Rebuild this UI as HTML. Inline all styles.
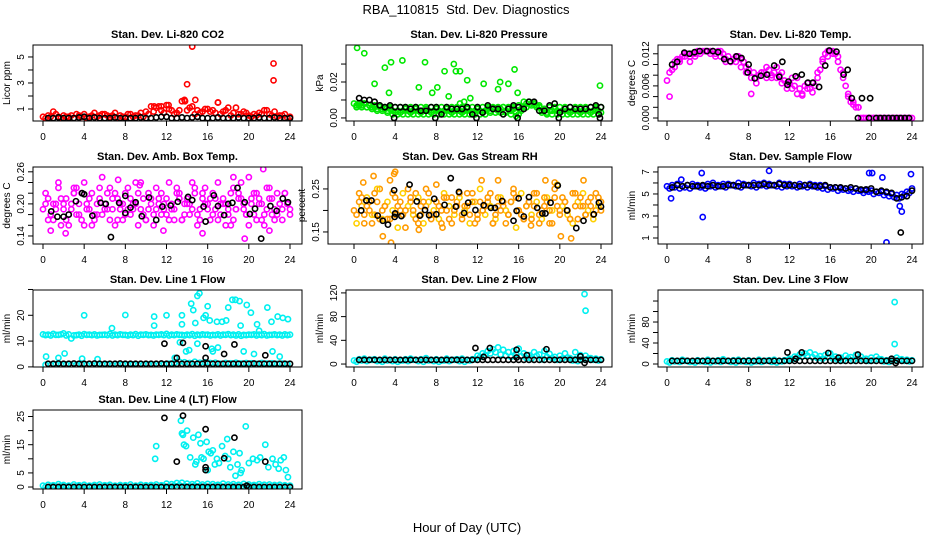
<!DOCTYPE html>
<html><head><meta charset="utf-8"><title>RBA_110815 Std. Dev. Diagnostics</title>
<style>
html,body{margin:0;padding:0;background:#fff;}
svg{display:block;font-family:"Liberation Sans",sans-serif;}
</style></head>
<body>
<svg id="chart" width="936" height="540" viewBox="0 0 936 540" xmlns="http://www.w3.org/2000/svg">
<text x="466" y="14" font-size="13" text-anchor="middle" style="white-space:pre">RBA_110815  Std. Dev. Diagnostics</text>
<text x="467" y="532" font-size="13" text-anchor="middle">Hour of Day (UTC)</text>
</svg>
<script>
// ---------- shared hour categories ----------
const HOURS_A = [0,0.5,1,1.5,2,2.5,3,3.5,4,4.5,5,5.5,6,6.5,7,7.5,8,8.5,9,9.5,10,10.5,11,11.5,12,12.5,13,13.5,14,14.5,15,15.5,16,16.5,17,17.5,18,18.5,19,19.5,20,20.5,21,21.5,22,22.5,23,23.5,24];
const HOURS_B = [0.25,0.75,1.25,1.75,2.25,2.75,3.25,3.75,4.25,4.75,5.25,5.75,6.25,6.75,7.25,7.75,8.25,8.75,9.25,9.75,10.25,10.75,11.25,11.75,12.25,12.75,13.25,13.75,14.25,14.75,15.25,15.75,16.25,16.75,17.25,17.75,18.25,18.75,19.25,19.75,20.25,20.75,21.25,21.75,22.25,22.75,23.25,23.75];
const HOURS_K = [0.5,1,1.5,2,2.5,3,3.5,4,4.5,5,5.5,6,6.5,7,7.5,8,8.5,9,9.5,10,10.5,11,11.5,12,12.5,13,13.5,14,14.5,15,15.5,16,16.5,17,17.5,18,18.5,19,19.5,20,20.5,21,21.5,22,22.5,23,23.5,24];
const X_TICKS = [0,4,8,12,16,20,24];

// ---------- CO2 ----------
const co2A = [0.4,0.5,0.8,0.4,0.5,0.4,0.3,0.5,0.6,0.4,0.7,0.5,0.6,0.4,0.7,0.5,0.4,0.6,0.5,0.7,0.8,1.2,1.1,0.9,1.3,0.9,0.7,1.6,0.9,1.2,0.9,0.8,1.0,0.9,1.5,0.8,1.1,0.7,0.6,0.8,0.5,0.6,0.7,0.9,0.6,0.8,0.5,0.6,0.4];
const co2B = [0.3,0.4,0.6,0.3,0.4,0.5,0.6,0.4,0.3,0.5,0.4,0.6,0.5,0.5,0.3,0.4,0.6,0.4,0.5,0.4,0.6,0.8,1.2,0.7,1.0,0.6,0.9,1.7,1.1,0.6,0.7,1.0,0.8,0.7,0.6,0.9,0.5,1.1,0.6,0.7,0.4,0.5,0.6,0.9,0.5,0.4,0.5,0.3];
const co2OutX = [14.5,22.4,22.4,14.0,14.8,13.8,12.2,10.8,11.5,17.0];
const co2OutY = [5.8,4.5,3.2,2.9,1.7,1.6,1.3,1.2,1.2,1.5];
const co2K = [0.3,0.3,0.35,0.3,0.3,0.3,0.35,0.4,0.3,0.35,0.3,0.3,0.3,0.35,0.3,0.3,0.3,0.3,0.35,0.3,0.3,0.35,0.4,0.4,0.3,0.3,0.35,0.3,0.35,0.4,0.3,0.3,0.3,0.35,0.3,0.3,0.3,0.35,0.3,0.3,0.3,0.35,0.3,0.3,0.35,0.3,0.3,0.3];

// ---------- Pressure ----------
const prA = [0.008,0.008,0.008,0.007,0.007,0.007,0.006,0.006,0.006,0.006,0.006,0.006,0.006,0.006,0.006,0.006,0.006,0.006,0.006,0.006,0.006,0.006,0.006,0.006,0.006,0.006,0.006,0.006,0.006,0.006,0.006,0.006,0.007,0.009,0.009,0.008,0.006,0.005,0.006,0.006,0.006,0.006,0.006,0.006,0.006,0.006,0.006,0.006,0.006];
const prB = [0.006,0.006,0.006,0.005,0.004,0.004,0.003,0.002,0.002,0.002,0.002,0.002,0.002,0.002,0.002,0.002,0.002,0.002,0.002,0.002,0.002,0.002,0.002,0.002,0.002,0.002,0.003,0.003,0.003,0.003,0.002,0.001,0.004,0.006,0.007,0.006,0.003,0.002,0.002,0.002,0.002,0.002,0.002,0.002,0.002,0.002,0.002,0.002];
const prC = [0.007,0.007,0.006,0.006,0.005,0.005,0.004,0.004,0.004,0.004,0.004,0.004,0.004,0.004,0.004,0.004,0.004,0.004,0.004,0.004,0.004,0.004,0.004,0.004,0.004,0.004,0.004,0.005,0.005,0.004,0.004,0.003,0.005,0.008,0.008,0.007,0.004,0.003,0.004,0.004,0.004,0.004,0.004,0.004,0.004,0.004,0.004,0.004];
const prD = [0.007,0.008,0.007,0.006,0.006,0.005,0.005,0.003,0.003,0.005,0.003,0.005,0.003,0.005,0.003,0.005,0.003,0.005,0.003,0.005,0.003,0.005,0.003,0.005,0.003,0.005,0.005,0.004,0.006,0.005,0.005,0.002,0.006,0.009,0.008,0.007,0.005,0.004,0.005,0.003,0.005,0.003,0.005,0.003,0.005,0.003,0.005,0.003];
const prOutX = [0.3,1.0,3.0,3.6,4.7,6.9,9.7,9.9,10.3,8.8,15.6,11.0,2.0,12.6,15.0,14.2,23.9,6.3,8.1,14.0,3.4,7.6,15.9,9.2,11.3,10.7,10.3];
const prOutY = [0.039,0.036,0.028,0.031,0.032,0.031,0.030,0.026,0.026,0.026,0.027,0.021,0.019,0.019,0.019,0.020,0.018,0.017,0.017,0.016,0.014,0.014,0.014,0.012,0.011,0.009,0.008];
const prK = [0.011,0.010,0.010,0.009,0.007,0.006,0.007,0.006,0.006,0.006,0.005,0.006,0.004,0.004,0.006,0.006,0.002,0.006,0.005,0.005,0.005,0.006,0.002,0.006,0.003,0.007,0.005,0.005,0.002,0.005,0.007,0.006,0.005,0.009,0.009,0.004,0.004,0.007,0.008,0.003,0.005,0.006,0.005,0.005,0.005,0.006,0.007,0.006];
const prZeroX = [3.9,7.9,11.9,15.9,19.9,23.9,23.8];
const prZeroY = [0.0,0.0,0.0,0.0,0.0,0.0,0.002];

// ---------- Li-820 temperature ----------
const tmA = [0.007,0.009,0.011,0.0115,0.012,0.012,0.0125,0.0125,0.0125,0.0125,0.0125,0.012,0.0115,0.011,0.0115,0.0105,0.009,0.0085,0.008,0.0085,0.009,0.0085,0.008,0.007,0.0065,0.006,0.0055,0.006,0.0055,0.006,0.009,0.012,0.0125,0.012,0.009,0.006,0.003,0.002,0.0,0.0,0.0,0.0,0.0,0.0,0.0,0.0,0.0,0.0,0.0];
const tmB = [0.004,0.0105,0.011,0.012,0.0115,0.012,0.0125,0.0125,0.0125,0.012,0.0115,0.0105,0.0105,0.0115,0.011,0.0095,0.0075,0.0065,0.0085,0.0075,0.008,0.0075,0.0065,0.0055,0.0055,0.0045,0.0042,0.0055,0.0048,0.0075,0.0105,0.0125,0.012,0.0105,0.0075,0.004,0.0025,0.002,0.0,0.0,0.0,0.0,0.0,0.0,0.0,0.0,0.0,0.0];
const tmC = [0.0085,0.0095,0.0105,0.0115,0.0105,0.0115,0.012,0.0125,0.012,0.0115,0.0125,0.011,0.0105,0.0105,0.0095,0.0085,0.0045,0.0075,0.0085,0.0095,0.0075,0.0095,0.0085,0.0065,0.0075,0.0075,0.0045,0.0065,0.0065,0.0085,0.011,0.0115,0.0125,0.0115,0.0085,0.0045,0.003,0.002,0.0,0.0,0.0,0.0,0.0,0.0,0.0,0.0,0.0,0.0];
const tmKX = [0.5,1.0,1.7,2.2,2.7,3.2,3.9,4.5,5.0,5.6,6.2,6.8,7.3,7.9,8.0,8.6,9.2,9.8,10.5,11.0,11.3,11.8,11.9,12.6,13.2,13.8,14.3,14.9,15.5,15.9,16.6,17.3,17.7,18.1,19.1,19.9,18.7,19.8,20.5,20.9,21.3,21.7,22.1,22.5,22.9,23.3,23.7];
const tmKY = [0.010,0.0105,0.0122,0.012,0.0123,0.0125,0.0125,0.0125,0.0123,0.011,0.0106,0.0115,0.0112,0.0085,0.010,0.0074,0.0079,0.0081,0.0098,0.0077,0.0105,0.0062,0.0068,0.0078,0.0081,0.0066,0.0066,0.0058,0.0098,0.0126,0.0124,0.0081,0.009,0.0037,0.0037,0.0037,0.0,0.0,0.0,0.0,0.0,0.0,0.0,0.0,0.0,0.0,0.0];

// ---------- Amb box temp ----------
const abA = [0.19,0.21,0.17,0.23,0.20,0.16,0.22,0.18,0.24,0.19,0.17,0.21,0.20,0.23,0.16,0.19,0.22,0.18,0.20,0.24,0.17,0.21,0.19,0.22,0.18,0.20,0.23,0.17,0.21,0.19,0.16,0.22,0.20,0.18,0.24,0.21,0.19,0.17,0.22,0.20,0.25,0.18,0.21,0.16,0.23,0.19,0.20,0.22,0.19];
const abB = [0.22,0.18,0.20,0.16,0.21,0.19,0.23,0.17,0.20,0.22,0.18,0.25,0.19,0.21,0.17,0.20,0.23,0.19,0.16,0.21,0.22,0.18,0.20,0.19,0.24,0.17,0.21,0.20,0.18,0.22,0.19,0.23,0.17,0.21,0.20,0.16,0.22,0.19,0.24,0.18,0.21,0.17,0.20,0.23,0.18,0.22,0.19,0.20];
const abC = [0.17,0.20,0.24,0.19,0.18,0.22,0.20,0.16,0.21,0.18,0.23,0.19,0.17,0.22,0.20,0.18,0.21,0.24,0.19,0.17,0.20,0.23,0.18,0.21,0.19,0.22,0.17,0.20,0.24,0.18,0.21,0.19,0.22,0.17,0.20,0.18,0.23,0.21,0.19,0.16,0.22,0.20,0.18,0.21,0.17,0.20,0.22,0.18];
const abD = [0.20,0.15,0.19,0.21,0.17,0.20,0.18,0.22,0.19,0.16,0.20,0.18,0.22,0.19,0.21,0.17,0.19,0.20,0.22,0.18,0.19,0.16,0.21,0.20,0.17,0.19,0.22,0.18,0.20,0.23,0.17,0.20,0.21,0.19,0.18,0.20,0.16,0.19,0.21,0.18,0.20,0.22,0.17,0.19,0.21,0.18,0.17,0.20];
const abOutX = [2.2,7.3,9.4,18.5,19.6,21.4,22.0,11.7,3.0,15.5];
const abOutY = [0.145,0.245,0.235,0.25,0.135,0.265,0.15,0.15,0.23,0.145];
const abKX = [0.8,1.4,2.0,2.5,3.2,3.8,4.0,4.8,5.6,6.1,6.6,7.4,8.0,8.0,8.5,9.0,9.6,10.3,11.0,11.6,12.4,13.1,14.1,14.5,15.6,15.8,16.6,17.0,17.6,18.0,18.4,18.9,19.6,20.1,20.6,21.2,22.1,22.7,23.3,23.8];
const abKY = [0.186,0.176,0.176,0.180,0.205,0.220,0.218,0.178,0.202,0.200,0.138,0.202,0.215,0.183,0.193,0.203,0.177,0.212,0.170,0.195,0.197,0.204,0.213,0.207,0.195,0.167,0.216,0.196,0.179,0.200,0.202,0.230,0.203,0.181,0.191,0.135,0.196,0.187,0.210,0.203];

// ---------- Gas stream RH ----------
const rhA = [0.20,0.24,0.17,0.22,0.19,0.25,0.21,0.18,0.23,0.20,0.16,0.22,0.24,0.19,0.21,0.18,0.26,0.20,0.23,0.17,0.22,0.19,0.21,0.24,0.18,0.20,0.22,0.17,0.23,0.21,0.19,0.25,0.20,0.18,0.22,0.24,0.19,0.21,0.17,0.23,0.20,0.22,0.18,0.24,0.21,0.19,0.23,0.20,0.22];
const rhB = [0.17,0.21,0.23,0.19,0.25,0.18,0.22,0.20,0.16,0.24,0.21,0.19,0.23,0.17,0.22,0.20,0.18,0.24,0.21,0.19,0.23,0.20,0.17,0.22,0.25,0.19,0.21,0.18,0.23,0.20,0.22,0.16,0.24,0.21,0.19,0.22,0.18,0.23,0.20,0.26,0.21,0.19,0.17,0.22,0.24,0.20,0.18,0.21];
const rhC = [0.22,0.19,0.20,0.24,0.18,0.21,0.27,0.19,0.22,0.20,0.23,0.18,0.21,0.25,0.19,0.22,0.17,0.20,0.23,0.21,0.18,0.24,0.22,0.19,0.20,0.23,0.17,0.21,0.22,0.19,0.24,0.20,0.18,0.22,0.21,0.17,0.23,0.20,0.25,0.19,0.22,0.18,0.21,0.23,0.19,0.21,0.24,0.20];
const rhD = [0.19,0.23,0.21,0.17,0.22,0.20,0.18,0.24,0.21,0.19,0.25,0.20,0.17,0.22,0.24,0.19,0.21,0.23,0.18,0.20,0.24,0.21,0.19,0.17,0.22,0.21,0.24,0.19,0.20,0.17,0.22,0.23,0.19,0.21,0.18,0.24,0.20,0.22,0.17,0.21,0.23,0.20,0.24,0.18,0.21,0.22,0.19,0.23];
const rhOutX = [0.9,1.9,3.9,4.0,3.6,2.8,6.3,8.6,12.4,14.0,20.1,21.1,18.6,19.5,22.3,17.2];
const rhOutY = [0.265,0.28,0.285,0.29,0.125,0.14,0.155,0.16,0.27,0.27,0.14,0.135,0.27,0.265,0.27,0.165];
const rhKX = [0.7,1.2,1.7,2.3,2.8,3.3,3.9,3.95,4.0,4.6,5.4,6.1,6.4,6.9,7.3,7.8,8.0,8.8,9.4,9.9,10.2,10.7,11.1,11.8,12.6,13.3,13.7,14.4,15.5,15.8,16.0,16.5,17.0,17.8,18.3,18.6,19.1,19.8,20.7,21.6,22.3,23.3,23.8,24.0];
const rhKY = [0.20,0.223,0.223,0.188,0.176,0.167,0.247,0.185,0.193,0.187,0.26,0.221,0.188,0.201,0.189,0.227,0.191,0.213,0.275,0.209,0.243,0.194,0.218,0.201,0.212,0.206,0.206,0.222,0.176,0.199,0.228,0.186,0.231,0.206,0.193,0.193,0.218,0.258,0.20,0.159,0.176,0.191,0.218,0.209];

// ---------- Sample flow ----------
const sfA = [5.7,5.8,5.9,5.7,5.8,5.9,5.8,5.7,5.9,6.0,5.8,5.9,5.9,5.8,6.0,5.9,5.8,6.0,5.9,6.0,5.9,5.8,6.0,5.9,5.9,5.8,5.9,5.8,5.9,5.8,5.8,5.7,5.6,5.6,5.5,5.5,5.4,5.5,5.3,5.4,5.3,5.2,5.2,5.1,5.0,4.9,5.0,5.2,5.5];
const sfB = [5.5,5.6,5.5,5.6,5.5,5.7,5.6,5.5,5.7,5.6,5.7,5.6,5.8,5.7,5.6,5.8,5.7,5.6,5.8,5.7,5.8,5.7,5.6,5.7,5.7,5.6,5.7,5.6,5.7,5.6,5.5,5.4,5.5,5.3,5.4,5.3,5.2,5.3,5.1,5.2,5.0,5.1,4.9,4.8,4.7,4.6,4.9,5.1];
const sfOutX = [0.4,1.4,3.4,3.5,10.0,19.8,20.1,21.1,21.5,22.8,23.0,23.9,19.5];
const sfOutY = [4.6,6.3,6.9,2.9,7.1,6.9,6.9,6.5,0.6,3.9,3.4,6.8,5.3];
const sfK = [5.6,5.8,5.7,5.8,5.7,5.7,5.8,5.7,5.8,5.7,5.7,5.8,5.8,5.7,5.8,5.8,5.8,5.8,5.9,5.8,5.8,5.9,5.8,5.8,5.8,5.7,5.8,5.8,5.7,5.7,5.8,5.6,5.6,5.6,5.5,5.6,5.5,5.4,5.4,5.5,5.2,5.3,5.2,5.1,4.6,4.7,4.8,5.3];
const sfKExX = [22.9];
const sfKExY = [1.5];

// ---------- Line 1 flow ----------
const l1A = [12.6,12.5,12.8,12.4,13.0,12.6,12.2,12.5,12.7,12.5,12.6,12.4,12.5,12.8,12.5,12.6,12.4,12.5,12.7,12.5,12.6,12.4,12.5,12.6,12.8,12.5,12.6,12.4,12.5,12.7,12.5,12.6,12.5,12.4,12.6,12.5,12.7,12.5,12.6,12.4,12.5,12.6,12.5,12.7,12.4,12.6,12.5,12.6,12.5];
const l1B = [12.3,12.2,12.4,12.6,12.2,11.0,12.3,12.1,12.4,12.3,12.2,12.4,12.3,12.2,12.3,12.4,12.2,12.3,12.1,12.4,12.3,12.2,12.4,12.3,12.2,12.3,12.4,12.2,12.3,12.1,12.3,12.4,12.2,12.3,12.2,12.4,12.3,12.2,12.1,12.3,12.4,12.2,12.3,12.2,12.4,12.3,12.2,12.3];
const l1C = [0.8,0.7,1.0,0.8,0.9,0.7,0.8,1.0,0.8,0.7,0.9,0.8,1.0,0.7,0.8,0.9,0.8,1.0,0.7,0.8,0.9,0.8,0.7,1.0,1.2,1.5,2.0,1.8,1.5,2.0,1.6,1.8,1.5,1.6,1.2,1.5,1.4,1.6,1.3,1.5,1.4,1.2,1.5,1.3,1.4,1.2,1.3,1.1];
const l1OutX = [0.3,1.5,2.1,3.8,4.0,5.3,6.7,8.0,10.8,10.8,12.0,13.3,13.5,13.5,13.9,14.4,14.6,14.8,15.0,15.2,15.6,15.8,16.0,16.2,16.4,16.5,16.9,17.4,17.8,18.0,18.4,18.7,19.1,19.2,19.5,19.8,20.2,20.5,20.8,21.8,22.2,22.3,22.8,23.3,23.8,15.0,14.2,21.0,17.0,12.8,23.0];
const l1OutY = [4,3.5,5.2,3.2,20,3,15,20.1,19.5,16,20,9.5,20,16.5,6,24.5,22,17,27.5,28.5,19,20,23.5,18,7,6,17.5,17.5,18,23,26,26,25.5,16,6,24,21,5,16.5,23,17.5,6,19.5,19,18.5,9,6.5,14,7.5,3.5,4];
const l1K = [1.2,1.2,1.3,1.2,1.2,1.3,1.2,1.2,1.2,1.3,1.2,1.2,1.2,1.2,1.3,1.2,1.2,1.2,1.2,1.2,1.2,1.2,1.3,1.2,1.2,1.2,1.2,1.2,1.2,1.2,1.2,1.3,1.2,1.2,1.2,1.2,1.2,1.2,1.2,1.2,1.3,1.2,1.2,1.2,1.2,1.2,1.2,1.2];
const l1KExX = [11.8,13.6,15.8,18.6,13.0,17.6,21.6,15.8];
const l1KExY = [9,9.3,8,8.7,3.5,5,4.5,3.5];

// ---------- Line 2 flow ----------
const l2A = [6,8,9,7,8,6,9,7,8,6,8,9,7,8,10,7,8,6,9,7,8,9,7,8,14,18,22,25,28,24,20,22,26,18,15,20,16,22,17,12,14,18,10,8,12,14,10,9,8];
const l2B = [4,6,5,7,5,4,6,5,4,6,5,7,5,4,6,5,4,6,5,7,5,4,6,8,12,15,18,20,16,14,12,17,13,10,9,14,8,12,10,7,9,11,6,5,8,9,7,6];
const l2OutX = [22.4,22.5,21.5,22.0];
const l2OutY = [118,90,20,15];
const l2K = [7,7,7,7,7,7,7,7,7,7,7,7,7,7,7,7,7,7,7,7,7,7,7,7,7,7,7,7,7,7,7,7,7,7,7,7,7,7,7,7,7,7,7,7,7,7,7,7];
const l2KExX = [11.8,13.2,15.8,18.7,12.6,16.8,22.0,22.4,15.8];
const l2KExY = [27,27,24,25,12,15,13,2,11];

// ---------- Line 3 flow ----------
const l3A = [5,7,6,8,6,5,7,6,8,6,7,9,6,7,8,6,7,5,8,6,7,8,6,7,10,14,18,20,22,18,15,17,20,14,12,16,13,17,14,10,12,14,9,7,10,12,9,8,7];
const l3B = [3,5,4,6,4,3,5,4,3,5,4,6,4,3,5,4,3,5,4,6,4,3,5,7,9,12,14,16,13,11,10,13,10,8,7,11,7,10,8,6,7,9,5,4,7,8,6,5];
const l3OutX = [22.3,22.3];
const l3OutY = [118,38];
const l3K = [6,6,6,6,6,6,6,6,6,6,6,6,6,6,6,6,6,6,6,6,6,6,6,6,6,6,6,6,6,6,6,6,6,6,6,6,6,6,6,6,6,6,6,6,6,6,6,6];
const l3KExX = [11.8,13.2,15.8,18.7,12.6,16.8,22.0,22.4];
const l3KExY = [22,22,21,18,10,12,10,2];

// ---------- Line 4 (LT) flow ----------
const l4A = [0.5,0.8,0.6,1.0,0.7,0.5,0.9,0.6,0.8,0.5,0.7,0.9,0.6,0.8,0.5,0.7,0.6,0.9,0.5,0.8,0.6,0.7,0.9,0.6,1.2,1.0,1.4,1.5,1.2,1.0,1.3,0.9,1.1,1.0,0.8,1.2,0.9,1.0,0.8,1.1,0.9,0.7,1.0,0.8,0.9,0.7,0.8,0.6,0.5];
const l4B = [0.1,0.3,0.2,0.4,0.1,0.2,0.3,0.1,0.2,0.3,0.1,0.2,0.4,0.1,0.2,0.3,0.1,0.2,0.3,0.1,0.2,0.4,0.1,0.3,0.2,0.5,0.6,0.4,0.3,0.5,0.4,0.3,0.2,0.4,0.3,0.2,0.4,0.3,0.2,0.3,0.4,0.2,0.3,0.1,0.3,0.2,0.1,0.2];
const l4OutX = [11.0,10.9,13.4,13.6,13.7,13.9,14.0,14.3,14.6,14.9,15.1,15.3,15.6,15.9,16.1,16.3,16.5,16.7,16.9,17.1,17.4,17.7,17.9,18.2,18.5,18.7,18.9,19.1,19.3,19.7,20.0,20.4,20.8,21.1,21.6,21.9,22.3,22.6,22.9,23.1,23.4,23.6,23.8,13.5,14.8,15.4,16.0,18.0,19.2];
const l4OutY = [14.5,10,23.5,18.5,15,14.5,20,10.5,17.5,9,18.5,15.5,10,16,12.5,12,13,8,10,8.5,14.5,11,17,7,12.5,4,8,12,6,21.5,8.5,10,9.5,10.5,15,7,10,8,6.5,9.5,10.5,6,3.5,19,8,10.5,6,10,5];
const l4K = [0,0,0,0,0,0,0,0,0,0,0,0,0,0,0,0,0,0,0,0,0,0,0,0,0,0,0,0,0,0,0,0,0,0,0,0,0,0,0,0,0,0,0,0,0,0,0,0];
const l4KExX = [11.8,13.6,13.0,15.8,15.8,15.8,17.6,18.6,21.6,19.8];
const l4KExY = [24.5,25.3,9,20.5,7,6,10.2,17.5,9,0.5];

// ---------- layout ----------
const NS = 'http://www.w3.org/2000/svg';
const svg = document.getElementById('chart');
const COLS = [{l:33,r:302,x0:43,x24:290},{l:346,r:612,x0:354,x24:601},{l:658,r:923,x0:667,x24:912}];
const ROWS = [{t:45,b:121},{t:167,b:244},{t:290,b:367},{t:410,b:489}];

function mk(tag, attrs, parent){
  const e = document.createElementNS(NS, tag);
  for (const k in attrs) e.setAttribute(k, attrs[k]);
  (parent||svg).appendChild(e);
  return e;
}

function makePanel(name, title, ylab, col, row, ymin, ymax, ticks, labels, boxLeft){
  const c = COLS[col], r = ROWS[row];
  const l = boxLeft || c.l;
  const g = mk('g', {});
  
  
  const xs = h => c.x0 + (h/24)*(c.x24 - c.x0);
  const ys = v => r.b - (v - ymin)/(ymax - ymin)*(r.b - r.t);
  const t = mk('text', {x:(l+c.r)/2, y:r.t-7, 'font-size':11, 'font-weight':'bold', 'text-anchor':'middle'}, g);
  t.textContent = title;
  
  
  const yl = mk('text', {transform:'translate('+(l-23)+','+((r.t+r.b)/2)+') rotate(-90)', 'font-size':10, 'text-anchor':'middle'}, g);
  yl.textContent = ylab;
  
  
  const xa = mk('g', {}, g);
  
  
  X_TICKS.forEach(h => {
    mk('line', {x1:xs(h), x2:xs(h), y1:r.b, y2:r.b+5, stroke:'#000', 'stroke-width':1}, xa);
    const tx = mk('text', {x:xs(h), y:r.b+19, 'font-size':10, 'text-anchor':'middle'}, xa);
    tx.textContent = h;
  });
  const ya = mk('g', {}, g);
  
  
  ticks.forEach(v => {
    mk('line', {x1:l-5, x2:l, y1:ys(v), y2:ys(v), stroke:'#000', 'stroke-width':1}, ya);
  });
  labels.forEach(s => {
    const v = parseFloat(s);
    const tx = mk('text', {transform:'translate('+(l-9)+','+ys(v)+') rotate(-90)', 'font-size':10, 'text-anchor':'middle'}, ya);
    tx.textContent = s;
  });
  const pts = mk('g', {}, g);
  
  
  const clip = 'clip-' + name;
  const cp = mk('clipPath', {id:clip}, g);
  mk('rect', {x:l, y:r.t, width:c.r-l, height:r.b-r.t}, cp);
  pts.setAttribute('clip-path', 'url(#' + clip + ')');
  const box = mk('rect', {x:l, y:r.t, width:c.r-l, height:r.b-r.t, fill:'none', stroke:'#000', 'stroke-width':1}, g);
  
  
  return {xs, ys, pts};
}

function plot(p, hours, vals, color, seriesName){
  const s = mk('g', {fill:'none', stroke:color, 'stroke-width':1.6}, p.pts);
  
  
  const n = Math.min(hours.length, vals.length);
  for (let i = 0; i < n; i++) {
    mk('circle', {cx:p.xs(hours[i]), cy:p.ys(vals[i]), r:2.6}, s);
  }
}

const RED='#ff0000', GRN='#00e800', MAG='#ff00ff', ORA='#ff9a00', YEL='#ffd000', BLU='#0000ff', CYA='#00f0f0', BLK='#000000';

let p;
p = makePanel('co2','Stan. Dev. Li-820 CO2','Licor ppm',0,0,0.077,5.92,[1,2,3,4,5],['1','3','5']);
plot(p,HOURS_A,co2A,RED,'co2-series-a'); plot(p,HOURS_B,co2B,RED,'co2-series-b'); plot(p,co2OutX,co2OutY,RED,'co2-outliers'); plot(p,HOURS_K,co2K,BLK,'co2-hourly-mean');

p = makePanel('pressure','Stan. Dev. Li-820 Pressure','kPa',1,0,-0.0017,0.0406,[0,0.01,0.02,0.03],['0.00','0.02']);
plot(p,HOURS_A,prA,GRN,'pressure-series-a'); plot(p,HOURS_B,prB,GRN,'pressure-series-b'); plot(p,HOURS_B,prC,GRN,'pressure-series-c'); plot(p,HOURS_K,prD,GRN,'pressure-series-d'); plot(p,prOutX,prOutY,GRN,'pressure-outliers'); plot(p,HOURS_K,prK,BLK,'pressure-hourly-mean'); plot(p,prZeroX,prZeroY,BLK,'pressure-hourly-zero');

p = makePanel('li820-temp','Stan. Dev. Li-820 Temp.','degrees C',2,0,-0.00056,0.01364,[0,0.002,0.004,0.006,0.008,0.010,0.012],['0.000','0.006','0.012']);
plot(p,HOURS_A,tmA,MAG,'temp-series-a'); plot(p,HOURS_B,tmB,MAG,'temp-series-b'); plot(p,HOURS_B,tmC,MAG,'temp-series-c'); plot(p,tmKX,tmKY,BLK,'temp-hourly-mean');

p = makePanel('amb-box-temp','Stan. Dev. Amb. Box Temp.','degrees C',0,1,0.125,0.269,[0.14,0.16,0.18,0.20,0.22,0.24,0.26],['0.14','0.20','0.26']);
plot(p,HOURS_A,abA,MAG,'ambtemp-series-a'); plot(p,HOURS_B,abB,MAG,'ambtemp-series-b'); plot(p,HOURS_K,abC,MAG,'ambtemp-series-c'); plot(p,HOURS_B,abD,MAG,'ambtemp-series-d'); plot(p,abOutX,abOutY,MAG,'ambtemp-outliers'); plot(p,abKX,abKY,BLK,'ambtemp-hourly-mean');

p = makePanel('gas-rh','Stan. Dev. Gas Stream RH','percent',1,1,0.122,0.301,[0.15,0.20,0.25],['0.15','0.25'],328);
plot(p,HOURS_A,rhA,ORA,'rh-series-a'); plot(p,HOURS_B,rhB,YEL,'rh-series-b'); plot(p,HOURS_K,rhC,ORA,'rh-series-c'); plot(p,HOURS_B,rhD,ORA,'rh-series-d'); plot(p,rhOutX,rhOutY,ORA,'rh-outliers'); plot(p,rhKX,rhKY,BLK,'rh-hourly-mean');

p = makePanel('sample-flow','Stan. Dev. Sample Flow','ml/min',2,1,0.455,7.45,[1,2,3,4,5,6,7],['1','3','5','7']);
plot(p,HOURS_A,sfA,BLU,'sampleflow-series-a'); plot(p,HOURS_B,sfB,BLU,'sampleflow-series-b'); plot(p,sfOutX,sfOutY,BLU,'sampleflow-outliers'); plot(p,HOURS_K,sfK,BLK,'sampleflow-hourly-mean'); plot(p,sfKExX,sfKExY,BLK,'sampleflow-hourly-extra');

p = makePanel('line1-flow','Stan. Dev. Line 1 Flow','ml/min',0,2,-0.04,29.8,[0,10,20,30],['0','10','20']);
plot(p,HOURS_A,l1A,CYA,'line1-series-a'); plot(p,HOURS_B,l1B,CYA,'line1-series-b'); plot(p,HOURS_B,l1C,CYA,'line1-series-low'); plot(p,l1OutX,l1OutY,CYA,'line1-outliers'); plot(p,HOURS_K,l1K,BLK,'line1-hourly-mean'); plot(p,l1KExX,l1KExY,BLK,'line1-hourly-extra');

p = makePanel('line2-flow','Stan. Dev. Line 2 Flow','ml/min',1,2,-5,124.9,[0,40,80,120],['0','40','80','120']);
plot(p,HOURS_A,l2A,CYA,'line2-series-a'); plot(p,HOURS_B,l2B,CYA,'line2-series-b'); plot(p,l2OutX,l2OutY,CYA,'line2-outliers'); plot(p,HOURS_K,l2K,BLK,'line2-hourly-mean'); plot(p,l2KExX,l2KExY,BLK,'line2-hourly-extra');

p = makePanel('line3-flow','Stan. Dev. Line 3 Flow','ml/min',2,2,-5.7,141,[0,20,40,60,80,100,120],['0','40','80']);
plot(p,HOURS_A,l3A,CYA,'line3-series-a'); plot(p,HOURS_B,l3B,CYA,'line3-series-b'); plot(p,l3OutX,l3OutY,CYA,'line3-outliers'); plot(p,HOURS_K,l3K,BLK,'line3-hourly-mean'); plot(p,l3KExX,l3KExY,BLK,'line3-hourly-extra');

p = makePanel('line4-flow','Stan. Dev. Line 4 (LT) Flow','ml/min',0,3,-0.7,27.3,[0,5,10,15,20,25],['0','5','15','25']);
plot(p,HOURS_A,l4A,CYA,'line4-series-a'); plot(p,HOURS_B,l4B,CYA,'line4-series-b'); plot(p,l4OutX,l4OutY,CYA,'line4-outliers'); plot(p,HOURS_K,l4K,BLK,'line4-hourly-mean'); plot(p,l4KExX,l4KExY,BLK,'line4-hourly-extra');
</script>
</body></html>
